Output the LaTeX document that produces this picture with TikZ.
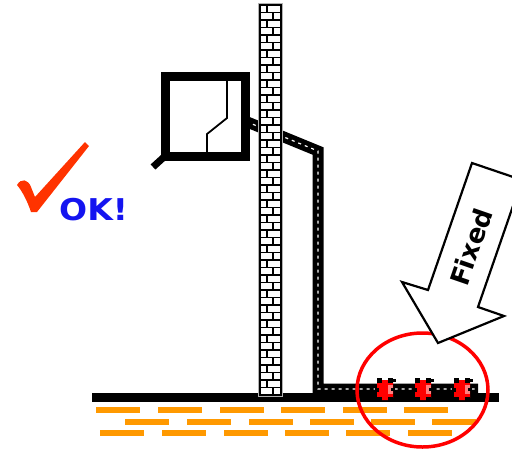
\documentclass[tikz,border=0pt]{standalone}
\usepackage{fontspec}
\newfontfamily\labelfont{DejaVu Sans}
\definecolor{checkred}{HTML}{FF3300}
\definecolor{okblue}{HTML}{1414F0}
\definecolor{sand}{HTML}{FF9900}
\definecolor{clampred}{HTML}{FF0000}
\definecolor{clamppink}{HTML}{FF8080}
\begin{document}
\begin{tikzpicture}[x=1pt,y=-1pt,
  pipe/.style={line width=11pt, line join=miter},
  pipecore/.style={white, line width=1.2pt, dash pattern=on 3pt off 4pt},
  mortar/.style={line width=1.7pt},
  sandstripe/.style={fill=sand},
  pipeclamp/.pic={
    \fill[clampred, rounded corners=2pt] (-8,-10) rectangle (8,10);
    \fill[clamppink] (3,-5) rectangle (8,4);
    \fill (-8,-12) rectangle (-3,-7);
    \fill (3,-12) rectangle (8,-7);
    \fill (-8,7) rectangle (-3,12);
    \fill (3,7) rectangle (8,12);
    \fill (-10,-2) rectangle (-6,2);
    \fill (6,-2) rectangle (10,1);
    \fill (8,-11) rectangle (11,-8);
  }]
\useasboundingbox (0,0) rectangle (512,448);

% ground line
\draw[line width=9pt] (92,397) -- (499,397);

% gas pipe from the meter round the chimney down to the ground
\coordinate (meterout) at (240,119);
\coordinate (bend) at (318,151);
\coordinate (foot) at (318,389);
\coordinate (pipeend) at (478,389);
\draw[pipe] (meterout) -- (bend) -- (foot) -- (pipeend);
\draw[pipecore] (meterout) -- (bend) -- (foot) -- (pipeend);

% clamps holding the pipe on the ground
\pic at (385,390) {pipeclamp};
\pic at (423,390) {pipeclamp};
\pic at (462,390) {pipeclamp};

% meter box
\draw[line width=9pt, fill=white] (165,76) rectangle (245,156);
\draw[line width=1.8pt] (227,80) -- (227,118) -- (207,134) -- (207,152);
\draw[line width=7pt] (164,157) -- (153,167);

% brick chimney
\draw[gray!60, line width=4.5pt] (260,5) rectangle (281,395);
\fill[white] (260,5) rectangle (281,395);
\foreach \k in {0,...,51} {
  \pgfmathsetmacro\ya{5+\k*7.5}
  \pgfmathsetmacro\yb{\ya+7.5}
  \pgfmathsetmacro\xj{isodd(\k) ? 273 : 267}
  \draw[mortar] (260,\yb) -- (281,\yb);
  \draw[mortar] (\xj,\ya) -- (\xj,\yb);
}
\draw[line width=2.4pt] (260,5) rectangle (281,395);

% soil stripes
\foreach \x in {96,158,220,281,343,404} \fill[sandstripe] (\x,407) rectangle ++(44,6);
\foreach \x in {125,187,249,310,371,432} \fill[sandstripe] (\x,419) rectangle ++(44,6);
\foreach \x in {100,162,224,285,346,408} \fill[sandstripe] (\x,430) rectangle ++(44,6);

% ring around the clamps
\draw[clampred, line width=3.5pt] (422.5,390) ellipse [x radius=65.5, y radius=57];

% big arrow
\draw[line width=2.2pt, fill=white, line join=miter]
  (472,163) -- (522,180) -- (478,307) -- (504,316) -- (438,343) -- (402,282) -- (428,290) -- cycle;
\node[font=\labelfont\bfseries\fontsize{26}{30}\selectfont, rotate=71] (fixedlabel) at (471,247) {Fixed};

% check mark and label
\fill[checkred] (17,185) .. controls (21,178) and (28,179) .. (31,187) -- (35,197) -- (85,142) -- (89,146)
  -- (37,212) -- (31,212) .. controls (27,200) and (22,191) .. (17,185) -- cycle;
\node[font=\labelfont\bfseries\fontsize{30}{36}\selectfont, text=okblue, anchor=base west, inner sep=0pt, xscale=1.1] (oklabel) at (59,220) {OK!};
\end{tikzpicture}
\end{document}
